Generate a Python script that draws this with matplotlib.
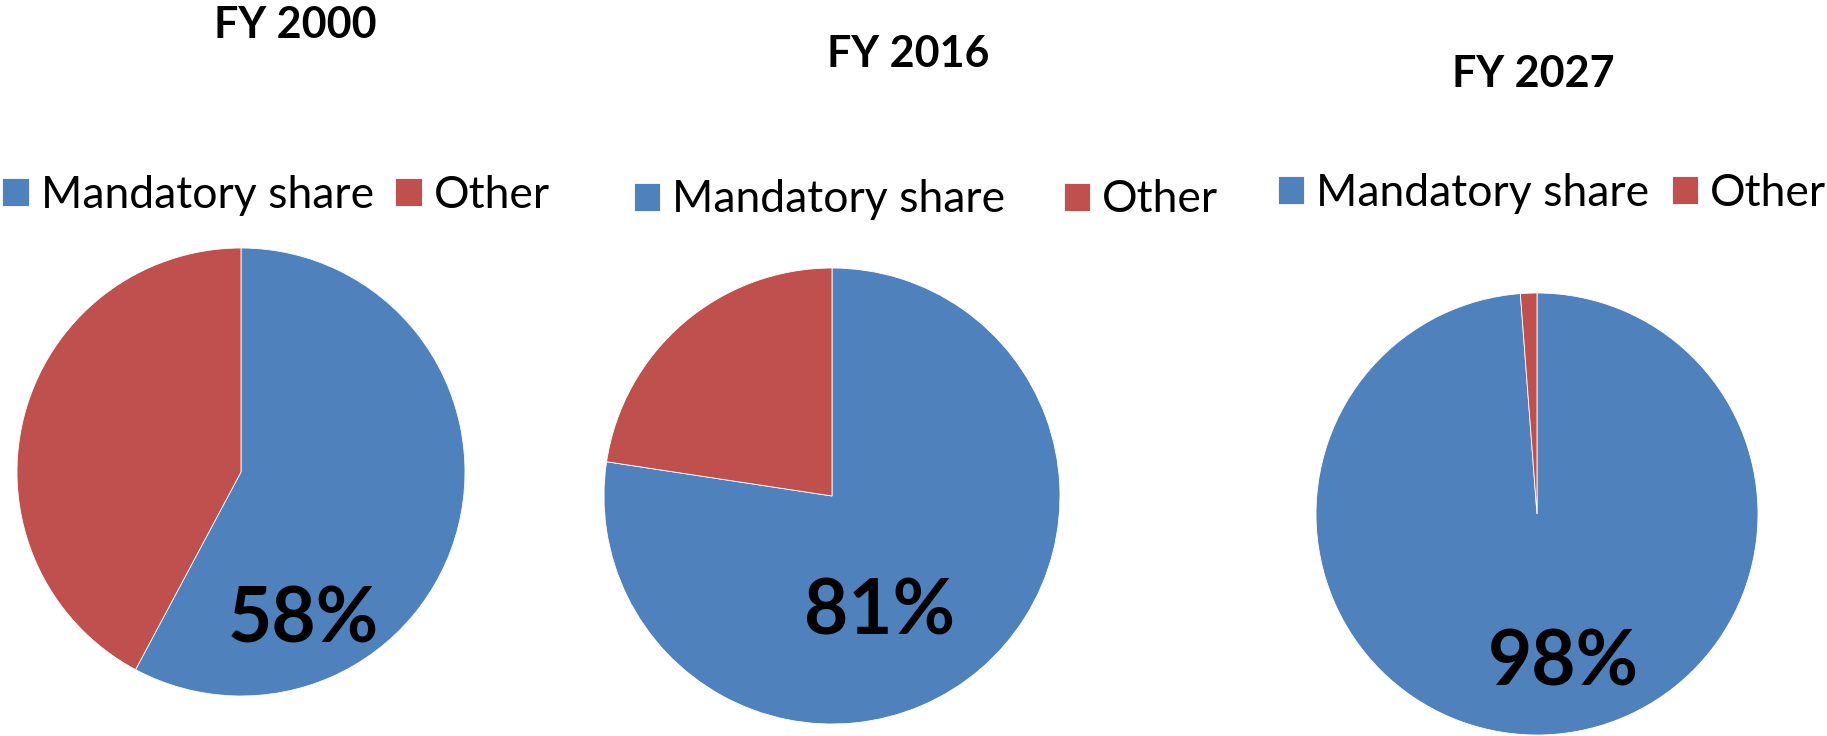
import matplotlib.pyplot as plt

plt.rcParams['font.family'] = ['Lato', 'DejaVu Sans']

years = ['FY 2000', 'FY 2016', 'FY 2027']
categories = ['Mandatory share', 'Other']
mandatory = [57.8, 77.4, 98.8]
other = [42.2, 22.6, 1.2]
labels = ['58%', '81%', '98%']

colors = ['#4F81BD', '#C0504D']

W, H = 1827, 736
fig = plt.figure(figsize=(W / 100, H / 100), dpi=100)

# pie centre / radius in pixels, title position, label offset (in radii), legend centre
layout = [
    dict(c=(241, 472), r=224, title=(295, 25), lab=(0.28, -0.665), leg=(276, 195), gap=0.47),
    dict(c=(832, 496), r=228, title=(908, 54), lab=(0.21, -0.51), leg=(926, 200), gap=1.31),
    dict(c=(1537, 514), r=221, title=(1533, 74), lab=(0.12, -0.675), leg=(1552, 193), gap=0.5),
]


def px_box(cx, cy, r):
    return [(cx - r) / W, (H - cy - r) / H, 2 * r / W, 2 * r / H]


for i, L in enumerate(layout):
    ax = fig.add_axes(px_box(*L['c'], L['r']))
    wedges, _ = ax.pie([mandatory[i], other[i]], colors=colors, startangle=90,
                       counterclock=False, radius=1,
                       wedgeprops=dict(edgecolor='white', linewidth=0.6))
    ax.set_xlim(-1, 1)
    ax.set_ylim(-1, 1)
    ax.set_aspect('auto')
    ax.set_axis_off()
    ax.text(L['lab'][0], L['lab'][1], labels[i], ha='center', va='center',
            fontsize=55, fontweight='bold')
    fig.text(L['title'][0] / W, 1 - L['title'][1] / H, years[i], ha='center',
             va='center', fontsize=31, fontweight='bold')
    fig.legend(wedges, categories, loc='center', ncol=2, frameon=False,
               bbox_to_anchor=(L['leg'][0] / W, 1 - L['leg'][1] / H),
               fontsize=32, handlelength=0.6, handleheight=0.6,
               handletextpad=0.27, columnspacing=L['gap'], borderpad=0)

fig.savefig('out.png', dpi=100)
